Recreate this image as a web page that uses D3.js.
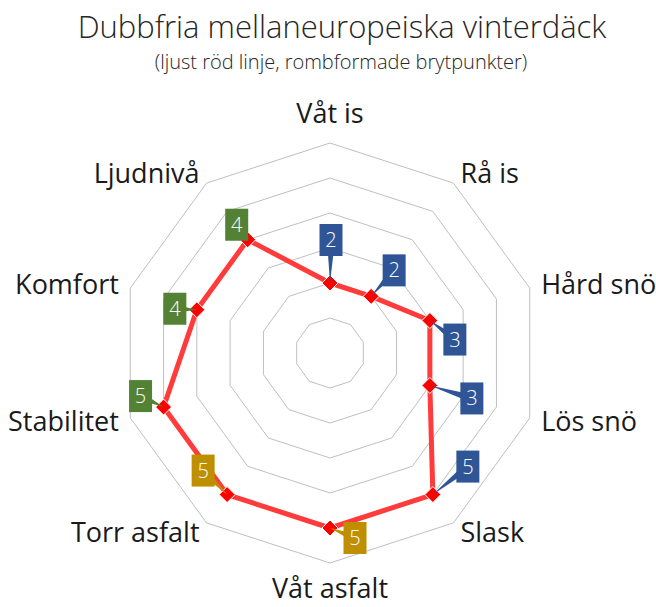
<!DOCTYPE html>
<html>
<head>
<meta charset="utf-8">
<script src="https://cdn.jsdelivr.net/npm/d3@7"></script>
<style>
  html, body { margin: 0; padding: 0; background: #fff; }
  svg { display: block; }
</style>
</head>
<body>
<svg id="chart" width="656" height="607"></svg>
<script>
// ---- data ----
const categories = ["Våt is", "Rå is", "Hård snö", "Lös snö", "Slask", "Våt asfalt", "Torr asfalt", "Stabilitet", "Komfort", "Ljudnivå"];
const values = [2, 2, 3, 3, 5, 5, 5, 5, 4, 4];
const groups = ["vinter", "vinter", "vinter", "vinter", "vinter", "sommar", "sommar", "övrigt", "övrigt", "övrigt"];
const ringTicks = [1, 2, 3, 4, 5, 6];
const title = "Dubbfria mellaneuropeiska vinterdäck";
const subtitle = "(ljust röd linje, rombformade brytpunkter)";

// ---- layout ----
const W = 656, H = 607;
const cx = 330, cy = 353, R = 210;
const groupColor = { vinter: "#2F5597", sommar: "#BF8F00", "övrigt": "#548235" };
// data label box offsets from the marker (dx, dy)
const labelOffsets = [[1, -43], [23, -26], [25, 19], [42, 13], [35, -28], [25, 10], [-24, -24], [-23, -11], [-22, -1], [-11, -15]];
const font = "'Open Sans', 'Noto Sans', sans-serif";

const svg = d3.select("#chart");
const r = d3.scaleLinear().domain([0, 6]).range([0, R]);
const angle = d3.scaleLinear().domain([0, categories.length]).range([0, 2 * Math.PI]);
const pt = (i, v) => [cx + r(v) * Math.sin(angle(i)), cy - r(v) * Math.cos(angle(i))];

// title
svg.append("text").attr("x", 342).attr("y", 38).attr("text-anchor", "middle")
  .attr("font-family", font).attr("font-weight", 300).attr("font-size", 31).attr("fill", "#262626").text(title);
svg.append("text").attr("x", 341).attr("y", 69).attr("text-anchor", "middle")
  .attr("font-family", font).attr("font-weight", 300).attr("font-size", 20).attr("fill", "#262626").text(subtitle);

// grid rings
const ringLine = d3.line();
ringTicks.forEach(t => {
  const pts = categories.map((c, i) => pt(i, t));
  pts.push(pts[0]);
  svg.append("path").attr("d", ringLine(pts)).attr("fill", "none")
    .attr("stroke", "#BFBFBF").attr("stroke-width", 1);
});

// category labels
const fs = 27;
categories.forEach((c, i) => {
  const a = angle(i);
  const s = Math.sin(a), co = Math.cos(a);
  let x, y, anchor;
  if (Math.abs(s) < 1e-6) {
    x = cx; anchor = "middle";
    y = co > 0 ? cy - R - 20 : cy + R + 35;
  } else {
    const p = [cx + (R + 12) * s, cy - (R + 12) * co];
    x = p[0]; y = p[1] + 0.36 * fs;
    anchor = s > 0 ? "start" : "end";
  }
  svg.append("text").attr("x", x).attr("y", y).attr("text-anchor", anchor)
    .attr("font-family", font).attr("font-size", fs).attr("fill", "#1a1a1a").text(c);
});

// series line
const pts = values.map((v, i) => pt(i, v));
svg.append("path").attr("d", d3.line()([...pts, pts[0]]))
  .attr("fill", "none").attr("stroke", "#FF3B3B").attr("stroke-width", 5)
  .attr("stroke-linejoin", "round");

// markers
const mk = 8;
pts.forEach(p => {
  svg.append("path")
    .attr("d", `M${p[0]},${p[1] - mk}L${p[0] + mk},${p[1]}L${p[0]},${p[1] + mk}L${p[0] - mk},${p[1]}Z`)
    .attr("fill", "#FF0000").attr("stroke", "#fff").attr("stroke-width", 1);
});

// data labels (callouts)
const bw = 23, bh = 32;
values.forEach((v, i) => {
  const p = pts[i];
  const col = groupColor[groups[i]];
  const bx = p[0] + labelOffsets[i][0], by = p[1] + labelOffsets[i][1];
  const dx = p[0] - bx, dy = p[1] - by;
  const len = Math.hypot(dx, dy) || 1;
  const nx = -dy / len * 4, ny = dx / len * 4;
  svg.append("path")
    .attr("d", `M${bx + nx},${by + ny}L${p[0]},${p[1]}L${bx - nx},${by - ny}Z`)
    .attr("fill", col);
  svg.append("rect").attr("x", bx - bw / 2).attr("y", by - bh / 2)
    .attr("width", bw).attr("height", bh).attr("fill", col);
  svg.append("text").attr("x", bx).attr("y", by + 7).attr("text-anchor", "middle")
    .attr("font-family", font).attr("font-weight", 300).attr("font-size", 20).attr("fill", "#fff").text(v);
});
</script>
</body>
</html>
